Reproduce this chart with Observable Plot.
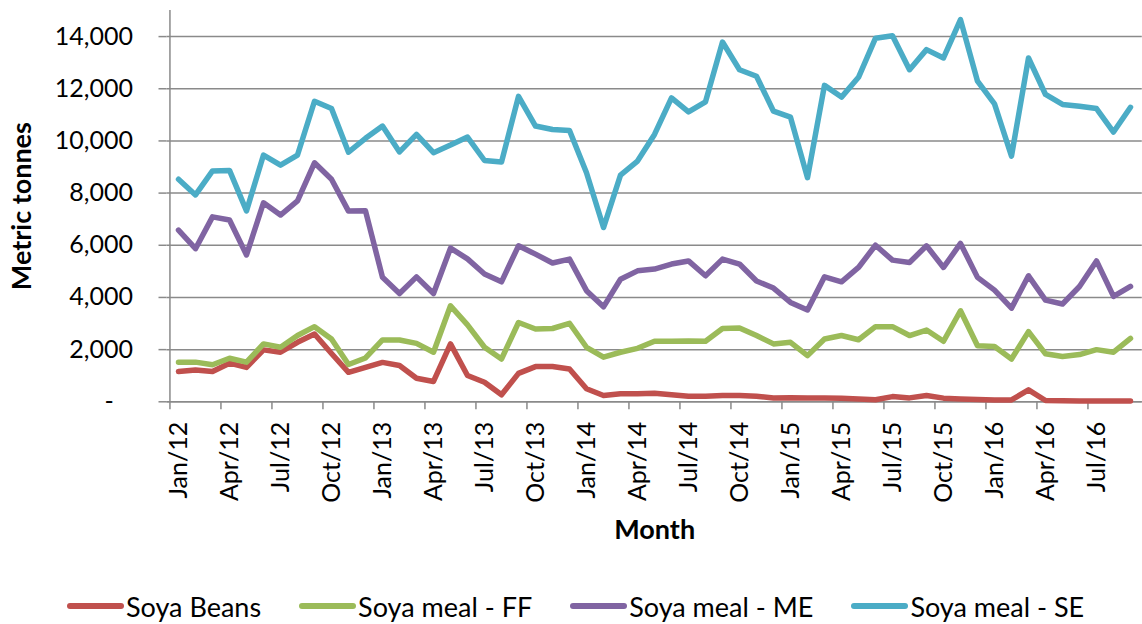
<!DOCTYPE html>
<html><head><meta charset="utf-8">
<script src="https://cdn.jsdelivr.net/npm/d3@7"></script>
<script src="https://cdn.jsdelivr.net/npm/@observablehq/plot@0.6"></script>
<style>
body{margin:0;background:#fff;font-family:Lato,sans-serif;}
#chart svg{display:block}
#legend{display:flex;align-items:center;height:64px;padding-left:67px;padding-top:28px;box-sizing:border-box;font-size:27px;color:#000;font-family:Lato,sans-serif}
.item{display:flex;align-items:center;margin-right:38px;white-space:nowrap}
.sw{width:57px;height:6px;border-radius:3px;margin-right:2px}
</style></head><body>
<div id="chart"></div><div id="legend"></div>
<script>
const monthNames = ["Jan","Feb","Mar","Apr","May","Jun","Jul","Aug","Sep","Oct","Nov","Dec"];
const years = ["12","13","14","15","16"];
const months = [];
for (const y of years) for (const m of monthNames) months.push(`${m}/${y}`);
months.length = 57; // Jan/12 .. Sep/16
const quarterLabels = months.filter((d, i) => i % 3 === 0);
const yTicks = [0, 2000, 4000, 6000, 8000, 10000, 12000, 14000];
const seriesNames = ["Soya Beans", "Soya meal - FF", "Soya meal - ME", "Soya meal - SE"];
const colors = ["#C0504D", "#9BBB59", "#8064A2", "#4BACC6"];

const soyaBeans = [1160,1220,1160,1480,1320,1990,1900,2280,2600,1850,1130,1320,1510,1390,900,780,2220,1010,750,270,1090,1350,1350,1260,500,240,310,310,330,270,210,210,240,240,210,150,160,150,150,140,110,80,200,150,240,140,110,90,70,70,460,50,40,30,30,30,30];
const soyaMealFF = [1520,1520,1420,1670,1520,2220,2090,2540,2880,2410,1430,1680,2370,2370,2240,1900,3680,2950,2090,1640,3040,2790,2810,3010,2090,1710,1900,2050,2320,2320,2330,2320,2810,2830,2540,2220,2280,1770,2410,2540,2380,2880,2880,2540,2750,2320,3490,2150,2120,1640,2690,1840,1740,1810,2000,1900,2430];
const soyaMealME = [6580,5870,7090,6970,5630,7630,7160,7700,9160,8530,7310,7320,4770,4150,4790,4150,5890,5480,4900,4600,5980,5660,5320,5470,4260,3640,4700,5020,5090,5280,5400,4830,5470,5280,4630,4360,3810,3520,4790,4600,5150,6000,5430,5340,5980,5150,6070,4770,4280,3590,4830,3900,3750,4420,5400,4040,4420];
const soyaMealSE = [8530,7930,8850,8870,7320,9460,9070,9460,11520,11240,9570,10100,10570,9580,10250,9550,9840,10150,9250,9190,11710,10570,10440,10400,8780,6680,8690,9230,10250,11650,11110,11500,13790,12730,12480,11140,10910,8590,12130,11680,12440,13940,14030,12730,13500,13180,14650,12290,11420,9420,13180,11780,11400,11330,11240,10340,11290];

const seriesValues = [soyaBeans, soyaMealFF, soyaMealME, soyaMealSE];
const rows = seriesNames.flatMap((name, s) => seriesValues[s].map((v, i) => ({series: name, month: months[i], value: v})));

const W = 1142, H = 560, mL = 166.5, mR = 0.2, mT = 10, mB = 158.7;
const step = (W - mL - mR) / months.length;
const grid = "#8a8a8a";

const plot = Plot.plot({
  width: W, height: H, marginLeft: mL, marginRight: mR, marginTop: mT, marginBottom: mB,
  style: {fontFamily: "Lato, sans-serif", background: "#fff", color: "#000", overflow: "visible"},
  x: {type: "point", domain: months, padding: 0.5, label: null},
  y: {domain: [0, 15000], label: null},
  color: {domain: seriesNames, range: colors},
  marks: [
    Plot.gridY(yTicks, {stroke: grid, strokeOpacity: 1, strokeWidth: 1.5}),
    Plot.axisY({ticks: yTicks, tickSize: 8, tickPadding: 26, fontSize: 25, stroke: grid, strokeWidth: 1.5, strokeOpacity: 1,
      tickFormat: d => d === 0 ? "-\u00a0\u00a0\u00a0" : d3.format(",")(d), label: null}),
    Plot.ruleY([0], {stroke: grid, strokeWidth: 1.5}),
    Plot.ruleX([months[0]], {dx: -step / 2, stroke: grid, strokeWidth: 1.5}),
    Plot.axisX({ticks: quarterLabels, tickSize: 8, tickFormat: () => "", dx: -step / 2, stroke: grid, strokeWidth: 1.5, strokeOpacity: 1, label: null}),
    Plot.axisX({ticks: quarterLabels, tickSize: 0, tickPadding: 20, tickRotate: -90, fontSize: 25, label: null}),
    Plot.line(rows, {x: "month", y: "value", stroke: "series", strokeWidth: 5.5, strokeLinejoin: "round", strokeLinecap: "round"}),
    Plot.text(["Month"], {text: d => d, frameAnchor: "bottom", lineAnchor: "middle", textAnchor: "middle", dy: 129, fontSize: 27, fontWeight: "bold", fill: "#000"}),
    Plot.text(["Metric tonnes"], {text: d => d, frameAnchor: "left", textAnchor: "middle", lineAnchor: "middle", rotate: -90, dx: -145, fontSize: 27, fontWeight: "bold", fill: "#000"})
  ]
});
document.getElementById("chart").appendChild(plot);

const legend = document.getElementById("legend");
seriesNames.forEach((name, i) => {
  const item = document.createElement("div");
  item.className = "item";
  const sw = document.createElement("span");
  sw.className = "sw";
  sw.style.background = colors[i];
  const label = document.createElement("span");
  label.textContent = name;
  item.appendChild(sw); item.appendChild(label);
  legend.appendChild(item);
});
</script>
</body></html>
